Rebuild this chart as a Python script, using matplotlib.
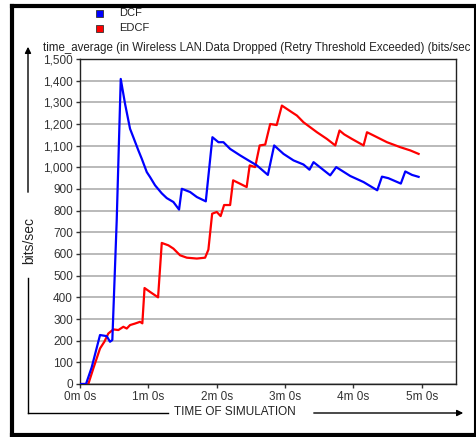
import matplotlib
matplotlib.use("Agg")
import matplotlib.pyplot as plt
from matplotlib.lines import Line2D
from matplotlib.patches import Rectangle

plt.rcParams['font.family'] = ['Liberation Sans', 'DejaVu Sans']

# time in minutes, values in bits/sec
dcf_t = [0, 0.088, 0.171, 0.293, 0.391, 0.439, 0.473, 0.537, 0.596, 0.659, 0.732,
         0.780, 0.854, 0.903, 0.977, 1.025, 1.098, 1.196, 1.269, 1.366, 1.449, 1.489,
         1.611, 1.709, 1.840, 1.937, 2.025, 2.098, 2.196, 2.343, 2.464, 2.587, 2.748,
         2.840, 2.977, 3.123, 3.269, 3.357, 3.416, 3.660, 3.748, 3.953, 4.148, 4.348,
         4.417, 4.510, 4.693, 4.758, 4.857, 4.953]
dcf_v = [0, 0, 77, 226, 221, 195, 203, 755, 1408, 1293, 1178,
         1139, 1078, 1040, 978, 955, 917, 880, 858, 840, 805, 901,
         886, 863, 843, 1139, 1116, 1116, 1085, 1055, 1032, 1009, 965,
         1101, 1062, 1032, 1013, 989, 1024, 963, 1001, 960, 932, 894,
         957, 950, 925, 981, 965, 956]

edcf_t = [0, 0.122, 0.195, 0.293, 0.356, 0.414, 0.488, 0.561, 0.634, 0.684, 0.732,
          0.805, 0.878, 0.912, 0.944, 1.025, 1.142, 1.196, 1.293, 1.366, 1.464, 1.562,
          1.709, 1.830, 1.878, 1.933, 2.001, 2.057, 2.108, 2.196, 2.240, 2.343, 2.438,
          2.482, 2.562, 2.628, 2.709, 2.782, 2.877, 2.953, 3.100, 3.173, 3.269, 3.466,
          3.612, 3.734, 3.796, 3.865, 3.978, 4.148, 4.198, 4.294, 4.490, 4.685, 4.832,
          4.953]
edcf_v = [0, 0, 72, 164, 195, 233, 252, 249, 264, 256, 272,
          279, 287, 280, 443, 425, 400, 651, 640, 625, 594, 583,
          579, 583, 620, 786, 794, 775, 826, 826, 940, 924, 909,
          1009, 1001, 1101, 1105, 1200, 1195, 1285, 1254, 1239, 1208, 1162,
          1131, 1101, 1170, 1152, 1131, 1101, 1162, 1147, 1116, 1093, 1078,
          1062]

x_ticks = [0, 1, 2, 3, 4, 5]
x_labels = ["0m 0s", "1m 0s", "2m 0s", "3m 0s", "4m 0s", "5m 0s"]
y_ticks = list(range(0, 1501, 100))

W, H = 477, 437


def fx(x):
    return x / W


def fy(y):
    return 1 - y / H


fig = plt.figure(figsize=(4.77, 4.37), dpi=100)
ax = fig.add_axes([fx(80), fy(384), (456 - 80) / W, (384 - 59) / H])

ax.plot(dcf_t, dcf_v, color="#0000ff", lw=1.6, zorder=3)
ax.plot(edcf_t, edcf_v, color="#ff0000", lw=1.6, zorder=2)

ax.set_xlim(0, 5.5)
ax.set_ylim(0, 1500)
ax.set_xticks(x_ticks)
ax.set_xticklabels(x_labels)
ax.set_yticks(y_ticks)
ax.set_yticklabels([f"{v:,}" for v in y_ticks])
ax.tick_params(labelsize=8.5, length=3, width=1, pad=2, colors="#333333")
for s in ax.spines.values():
    s.set_color("#222222")
    s.set_linewidth(1)
ax.yaxis.grid(True, color="#b4b4b4", lw=1.3)
ax.set_axisbelow(True)

# title line above plot
fig.text(fx(43), fy(48), "time_average (in Wireless LAN.Data Dropped (Retry Threshold Exceeded) (bits/sec",
         fontsize=8.3, va="center", ha="left", color="#222222")

# legend
fig.add_artist(Rectangle((fx(96.5), fy(16.5)), 7 / W, 7 / H, facecolor="#0000ff",
                         edgecolor="#333333", lw=0.6))
fig.add_artist(Rectangle((fx(96.5), fy(31.5)), 7 / W, 7 / H, facecolor="#ff0000",
                         edgecolor="#333333", lw=0.6))
fig.text(fx(119), fy(13), "DCF", fontsize=8, va="center", color="#222222")
fig.text(fx(119), fy(28), "EDCF", fontsize=8, va="center", color="#222222")

# y axis label with arrow
fig.text(fx(29), fy(240), "bits/sec", rotation=90, fontsize=10, va="center", ha="center",
         color="#222222")
ax.annotate("", xy=(fx(28), fy(44)), xytext=(fx(28), fy(195)), xycoords="figure fraction",
            arrowprops=dict(arrowstyle="-|>", color="black", lw=1, mutation_scale=9))
fig.add_artist(Line2D([fx(28), fx(28)], [fy(278), fy(413)], color="black", lw=1))

# x axis label with arrow
fig.add_artist(Line2D([fx(28), fx(168)], [fy(413), fy(413)], color="black", lw=1))
fig.text(fx(235), fy(412), "TIME OF SIMULATION", fontsize=8.5, va="center", ha="center",
         color="#222222")
ax.annotate("", xy=(fx(466), fy(413)), xytext=(fx(311), fy(413)), xycoords="figure fraction",
            arrowprops=dict(arrowstyle="-|>", color="black", lw=1, mutation_scale=9))

# outer frame
fig.add_artist(Line2D([fx(12), fx(12)], [fy(6), fy(435)], color="black", lw=3))
fig.add_artist(Line2D([fx(12), fx(476)], [fy(6), fy(6)], color="black", lw=3))
fig.add_artist(Line2D([fx(12), fx(476)], [fy(435), fy(435)], color="black", lw=3))
fig.add_artist(Line2D([fx(475), fx(475)], [fy(6), fy(435)], color="black", lw=1.5))

fig.savefig("out.png", dpi=100)
